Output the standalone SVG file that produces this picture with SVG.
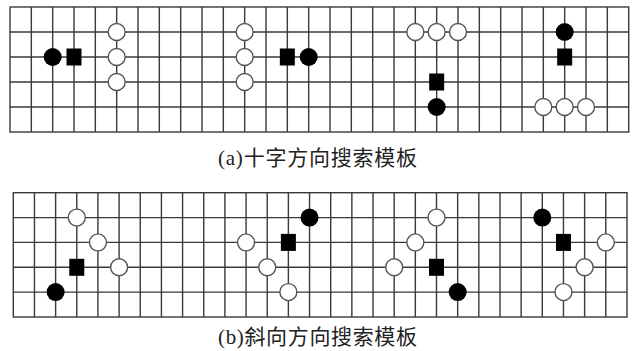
<svg xmlns="http://www.w3.org/2000/svg" width="637" height="351" viewBox="0 0 637 351">
<defs>
<style>
.grid{fill:none;stroke:#3a3a3a;stroke-width:1.4}
.w{fill:#fff;stroke:#555;stroke-width:1.4}
.b{fill:#000}
.cap{font-family:"Liberation Serif","Noto Sans CJK SC",serif;font-size:21px;fill:#222}
</style>
<circle id="W" r="8.5" class="w"/>
<circle id="B" r="9" class="b"/>
<rect id="S" x="-7.5" y="-8.5" width="15" height="17" class="b"/>
</defs>
<rect width="637" height="351" fill="#fff"/>
<g id="gridA" class="grid">
<rect x="10" y="7" width="618.7" height="125"/>
<path d="M10 32H628.7M10 57H628.7M10 82H628.7M10 107H628.7"/>
<path d="M31.33 7V132M52.67 7V132M74 7V132M95.33 7V132M116.67 7V132M138 7V132M159.33 7V132M180.67 7V132M202 7V132M223.33 7V132M244.67 7V132M266 7V132M287.33 7V132M308.67 7V132M330 7V132M351.33 7V132M372.67 7V132M394 7V132M415.33 7V132M436.67 7V132M458 7V132M479.33 7V132M500.67 7V132M522 7V132M543.33 7V132M564.67 7V132M586 7V132M607.33 7V132"/>
</g>
<g id="gridB" class="grid">
<rect x="13.3" y="192.7" width="613.7" height="124.3"/>
<path d="M13.3 217.6H627M13.3 242.4H627M13.3 267.3H627M13.3 292.1H627"/>
<path d="M34.46 192.7V317M55.62 192.7V317M76.78 192.7V317M97.94 192.7V317M119.1 192.7V317M140.26 192.7V317M161.42 192.7V317M182.58 192.7V317M203.74 192.7V317M224.9 192.7V317M246.06 192.7V317M267.22 192.7V317M288.38 192.7V317M309.54 192.7V317M330.7 192.7V317M351.86 192.7V317M373.02 192.7V317M394.18 192.7V317M415.34 192.7V317M436.5 192.7V317M457.66 192.7V317M478.82 192.7V317M499.98 192.7V317M521.14 192.7V317M542.3 192.7V317M563.46 192.7V317M584.62 192.7V317M605.78 192.7V317"/>
</g>
<g id="connectors"></g>
<g id="a1">
<use href="#B" x="52.67" y="57"/><use href="#S" x="74" y="57"/>
<use href="#W" x="116.67" y="32"/><use href="#W" x="116.67" y="57"/><use href="#W" x="116.67" y="82"/>
</g>
<g id="a2">
<use href="#W" x="244.67" y="32"/><use href="#W" x="244.67" y="57"/><use href="#W" x="244.67" y="82"/>
<use href="#S" x="287.33" y="57"/><use href="#B" x="308.67" y="57"/>
</g>
<g id="a3">
<use href="#W" x="415.33" y="32"/><use href="#W" x="436.67" y="32"/><use href="#W" x="458" y="32"/>
<use href="#S" x="436.67" y="82"/><use href="#B" x="436.67" y="107"/>
</g>
<g id="a4">
<use href="#B" x="564.67" y="32"/><use href="#S" x="564.67" y="57"/>
<use href="#W" x="543.33" y="107"/><use href="#W" x="564.67" y="107"/><use href="#W" x="586" y="107"/>
</g>
<g id="b1">
<use href="#W" x="76.78" y="217.6"/><use href="#W" x="97.94" y="242.4"/><use href="#W" x="119.1" y="267.3"/>
<use href="#S" x="76.78" y="267.3"/><use href="#B" x="55.62" y="292.1"/>
</g>
<g id="b2">
<use href="#B" x="309.54" y="217.6"/><use href="#S" x="288.38" y="242.4"/>
<use href="#W" x="246.06" y="242.4"/><use href="#W" x="267.22" y="267.3"/><use href="#W" x="288.38" y="292.1"/>
</g>
<g id="b3">
<use href="#W" x="436.5" y="217.6"/><use href="#W" x="415.34" y="242.4"/><use href="#W" x="394.18" y="267.3"/>
<use href="#S" x="436.5" y="267.3"/><use href="#B" x="457.66" y="292.1"/>
</g>
<g id="b4">
<use href="#B" x="542.3" y="217.6"/><use href="#S" x="563.46" y="242.4"/>
<use href="#W" x="605.78" y="242.4"/><use href="#W" x="584.62" y="267.3"/><use href="#W" x="563.46" y="292.1"/>
</g>
<g id="captionA"><text class="cap" x="218" y="165" textLength="199" lengthAdjust="spacing">(a)十字方向搜索模板</text></g>
<g id="captionB"><text class="cap" x="218" y="344" textLength="199" lengthAdjust="spacing">(b)斜向方向搜索模板</text></g>
</svg>
